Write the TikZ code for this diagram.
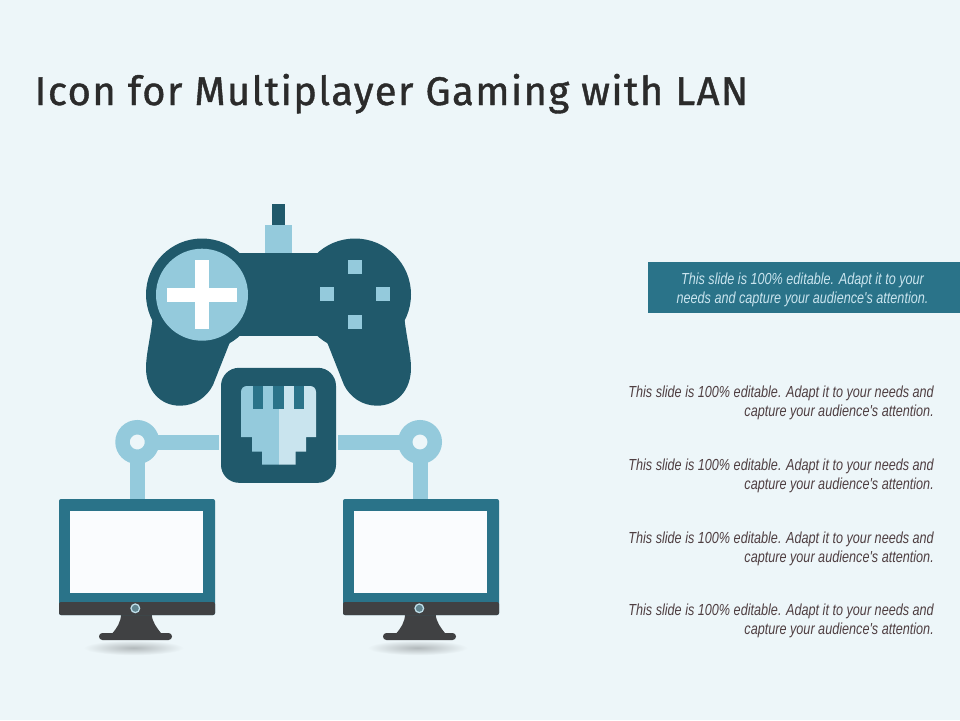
\documentclass[tikz,border=0pt]{standalone}
\usepackage{fontspec}
\setmainfont{Liberation Sans}
\newfontfamily\titlefont[LetterSpace=3.5,FakeBold=1]{Fira Sans}
\newfontfamily\bodyfont[FakeStretch=0.79]{Liberation Sans}
\definecolor{bgc}{HTML}{EDF6F9}
\definecolor{darkteal}{HTML}{20596B}
\definecolor{midteal}{HTML}{2A7389}
\definecolor{lightblue}{HTML}{94CADC}
\definecolor{paleblue}{HTML}{C9E4EE}
\definecolor{screenc}{HTML}{FAFCFE}
\definecolor{standc}{HTML}{404143}
\definecolor{titlec}{HTML}{2B2B2B}
\definecolor{bodyc}{HTML}{4F3F42}
\tikzset{
  x=1pt,y=-1pt,
  conn/.style={draw=lightblue,line width=15pt},
  ringnode/.style={circle,draw=lightblue,line width=14.5pt,fill=bgc,minimum size=29.5pt,inner sep=0pt},
  bodytext/.style={font=\bodyfont\itshape\fontsize{16}{19}\selectfont,align=right,anchor=east,text=bodyc,inner sep=0pt},
  bannertext/.style={font=\bodyfont\itshape\fontsize{16}{19}\selectfont,align=center,text=paleblue,inner sep=0pt},
  padfill/.style={fill=darkteal},
  lightfill/.style={fill=lightblue},
}
\begin{document}
\begin{tikzpicture}
\useasboundingbox (0,0) rectangle (960,720);
\fill[bgc] (0,0) rectangle (960,720);
% title
\node[anchor=base west,inner sep=0pt,text=titlec,font=\titlefont\fontsize{40}{48}\selectfont] (title) at (34.5,105) {Icon for Multiplayer Gaming with LAN};
% gamepad
\fill[padfill] (272,204) rectangle (285,226);
\fill[lightfill] (265,225) rectangle (292,254);
\fill[padfill] (202,294.5) circle (56);
\fill[padfill] (355,294.5) circle (56);
\fill[padfill] (230,253) rectangle (327,335.7);
\fill[padfill] (152.7,318) .. controls (150,340) and (146,355) .. (146,368) .. controls (146,390) and (160,405.7) .. (180,405.7) .. controls (195,405.7) and (207,397) .. (213,385) -- (230,342) -- (238,335.7) -- (238,300) -- (170,300) -- cycle;
\fill[padfill] (404.3,318) .. controls (407,340) and (411,355) .. (411,368) .. controls (411,390) and (397,405.7) .. (377,405.7) .. controls (362,405.7) and (350,397) .. (344,385) -- (327,342) -- (319,335.7) -- (319,300) -- (387,300) -- cycle;
\fill[lightfill] (202,294.7) circle (46);
\fill[white] (166.7,287.7) rectangle (237.3,301.7);
\fill[white] (195,259.7) rectangle (209.3,329);
\fill[lightfill] (348,260) rectangle (362,274);
\fill[lightfill] (320,287) rectangle (334,301);
\fill[lightfill] (376,287) rectangle (390,301);
\fill[lightfill] (348,315) rectangle (362,329);
% LAN box
\node[fill=darkteal,rounded corners=18pt,minimum width=115pt,minimum height=115pt,inner sep=0pt] (lan) at (278.5,425.3) {};
\fill[lightblue] (279,386) -- (247,386) .. controls (243.5,386) and (241,388.5) .. (241,392) -- (241,437) -- (252,437) -- (252,451.7) -- (262,451.7) -- (262,464.7) -- (279,464.7) -- cycle;
\fill[paleblue] (279,386) -- (310,386) .. controls (313.5,386) and (316,388.5) .. (316,392) -- (316,437) -- (306,437) -- (306,451.7) -- (295.7,451.7) -- (295.7,464.7) -- (279,464.7) -- cycle;
\fill[midteal] (253,386) rectangle (263,408.7);
\fill[midteal] (273,386) rectangle (284,408.7);
\fill[midteal] (294,386) rectangle (304,408.7);
% monitors
\foreach \dx/\n in {0/L,284/R}{
  \begin{scope}[xshift=\dx pt]
    \shade[inner color=black!25!bgc,outer color=bgc] (133.5,647.7) ellipse (50 and 7.5);
    \path[fill=standc] (121,614) -- (151.7,614) .. controls (152,622) and (157,628) .. (161.7,634) -- (111.7,634) .. controls (117,628) and (121,622) .. (121,614) -- cycle;
    \fill[standc,rounded corners=3.4pt] (99,633) rectangle (172,640);
    \node[fill=midteal,rounded corners=2pt,minimum width=156pt,minimum height=116pt,inner sep=0pt] (mon\n) at (137,557) {};
    \fill[standc,rounded corners=2pt] (59,602) -- (215,602) -- (215,615) -- (59,615) -- cycle;
    \fill[screenc] (70,511) rectangle (203,593);
    \fill[fill=bgc!50!lightblue] (135.3,608.3) circle (5);
    \fill[fill=black!30!midteal!70!white] (135.3,608.3) circle (3.5);
  \end{scope}
}
% rings and connectors
\node[ringnode] (ringL) at (137.3,442) {};
\node[ringnode] (ringR) at (420,442) {};
\draw[conn,shorten >=2pt,shorten <=-2pt] (ringL.east) -- (ringL.east -| lan.west);
\draw[conn,shorten >=2pt,shorten <=-2pt] (ringR.west) -- (ringR.west -| lan.east);
\draw[conn,shorten <=-2pt] (ringL.south) -- (ringL.south |- monL.north);
\draw[conn,shorten <=-2pt] (ringR.south) -- (ringR.south |- monR.north);
% banner
\node[fill=midteal,minimum width=312pt,minimum height=50.7pt,inner sep=0pt] (banner) at (804,287.5) {};
\node[bannertext] (bannerT) at (802.5,290) {This slide is 100\% editable. Adapt it to your\\needs and capture your audience's attention.};
% side text
\node[bodytext] (t1) at (934,403) {This slide is 100\% editable. Adapt it to your needs and\\capture your audience's attention.};
\node[bodytext] (t2) at (934,476) {This slide is 100\% editable. Adapt it to your needs and\\capture your audience's attention.};
\node[bodytext] (t3) at (934,548.5) {This slide is 100\% editable. Adapt it to your needs and\\capture your audience's attention.};
\node[bodytext] (t4) at (934,621) {This slide is 100\% editable. Adapt it to your needs and\\capture your audience's attention.};
\end{tikzpicture}
\end{document}
